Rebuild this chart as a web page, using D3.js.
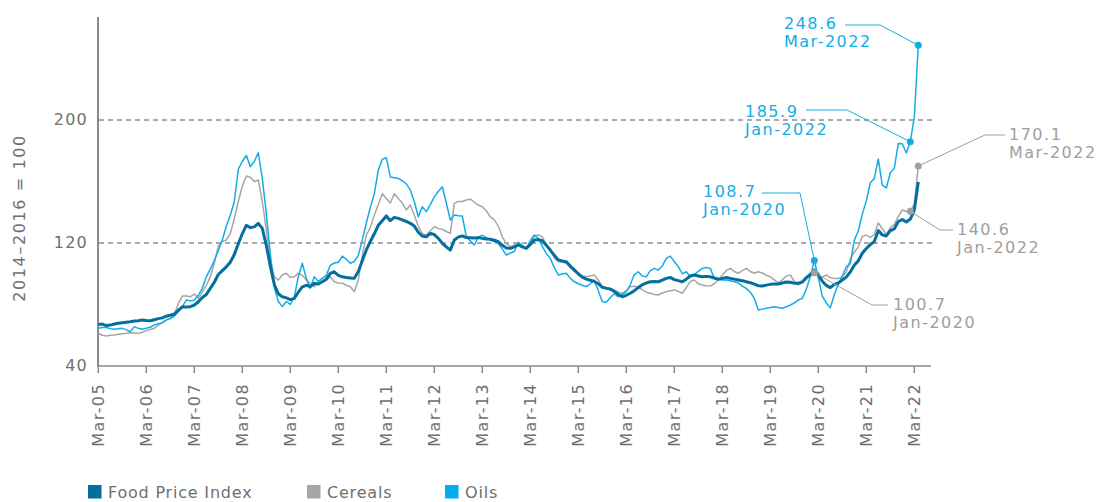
<!DOCTYPE html>
<meta charset="utf-8">
<script src="https://d3js.org/d3.v7.min.js"></script>
<style>
  body { margin: 0; background: #fff; }
  text { font-family: "DejaVu Sans", sans-serif; }
</style>
<div id="chart"></div>
<script>

// monthly values, first point = Feb 2005, last = Mar 2022
var foodPriceIndex = [
  67.0, 67.3, 66.3, 66.6, 67.3, 67.8, 68.2, 68.5, 68.8, 69.2,
  69.5, 69.9, 69.6, 69.4, 70.1, 70.8, 71.3, 72.4, 73.0, 73.8,
  76.2, 78.5, 78.3, 78.6, 79.6, 81.8, 84.5, 86.5, 90.5, 94.5,
  99.5, 102.0, 104.5, 107.5, 112.5, 119.5, 126.0, 131.5, 130.0, 130.5,
  132.8, 129.5, 118.5, 105.0, 93.0, 87.0, 85.0, 84.3, 83.2, 84.0,
  88.0, 91.5, 92.5, 91.6, 93.8, 93.3, 94.8, 96.5, 100.3, 101.3,
  99.0, 98.0, 97.6, 97.3, 97.0, 101.5, 108.5, 115.5, 121.0, 126.0,
  131.5, 134.5, 137.6, 134.5, 136.7, 136.0, 135.0, 134.0, 132.8, 131.0,
  127.0, 124.5, 124.0, 126.3, 125.5, 123.0, 119.8, 117.5, 115.4, 121.9,
  123.8, 124.6, 123.5, 123.4, 123.2, 123.5, 123.0, 122.6, 122.4, 121.8,
  120.9, 118.5, 116.8, 116.5, 117.5, 118.7, 117.5, 116.5, 119.0, 122.0,
  122.2, 121.5, 118.5, 115.4, 112.0, 109.0, 108.3, 107.8, 105.0, 102.5,
  100.0, 97.8, 96.5, 95.8, 95.0, 93.5, 91.2, 90.5, 90.0, 88.5,
  86.5, 85.0, 86.0, 87.3, 89.0, 91.0, 92.8, 94.0, 94.8, 95.0,
  94.8, 95.8, 97.0, 97.6, 96.2, 95.5, 94.8, 96.5, 98.5, 99.2,
  98.5, 98.0, 98.3, 98.0, 97.2, 96.4, 97.0, 97.5, 97.0, 96.5,
  96.0, 95.5, 94.8, 94.2, 93.2, 92.2, 92.0, 92.6, 93.1, 93.3,
  93.3, 94.0, 94.6, 94.5, 93.9, 93.8, 94.6, 97.5, 99.5, 102.5,
  99.4, 95.1, 92.4, 91.0, 93.1, 94.0, 95.9, 97.8, 101.2, 105.5,
  108.5, 113.3, 116.4, 118.9, 121.0, 128.1, 125.3, 124.6, 128.0, 129.2,
  134.0, 135.3, 133.7, 135.6, 141.4, 159.7
];

var cereals = [
  61.3, 60.0, 59.5, 60.0, 60.2, 60.6, 61.0, 61.3, 61.7, 61.5,
  61.3, 62.0, 63.0, 63.8, 64.5, 66.7, 68.0, 69.9, 71.0, 73.5,
  80.5, 85.5, 85.5, 85.0, 86.8, 84.0, 88.0, 92.5, 98.0, 107.0,
  118.0, 121.0, 122.0, 126.0, 136.0, 147.0, 157.0, 163.6, 162.7, 160.0,
  161.0, 147.0, 128.5, 109.0, 98.0, 95.9, 99.2, 100.3, 97.6, 98.0,
  100.3, 99.0, 96.0, 93.8, 91.6, 93.8, 95.0, 95.9, 98.0, 94.8,
  94.0, 93.8, 92.5, 91.6, 88.3, 96.0, 112.0, 125.0, 130.0, 138.0,
  145.0, 152.0, 149.0, 146.0, 152.0, 149.0, 146.0, 141.5, 144.7, 138.0,
  131.0, 126.0, 125.2, 128.0, 130.6, 129.5, 128.9, 127.5, 126.3, 145.8,
  147.0, 147.0, 148.0, 148.5, 146.5, 144.7, 143.5, 141.0, 137.0, 135.0,
  131.0, 124.0, 119.5, 117.6, 118.5, 119.8, 117.5, 116.5, 120.0, 124.5,
  125.2, 124.0, 119.0, 115.4, 110.5, 108.0, 107.5, 106.8, 104.0, 101.5,
  99.5, 98.5, 98.0, 98.5, 99.2, 96.0, 91.6, 91.0, 90.5, 89.5,
  88.0, 87.3, 89.0, 91.6, 91.8, 91.6, 89.5, 88.0, 87.3, 86.5,
  86.2, 87.5, 88.3, 89.0, 89.5, 88.5, 87.3, 91.0, 95.0, 95.9,
  93.5, 92.7, 92.2, 92.0, 93.5, 95.9, 99.0, 102.0, 103.5, 101.5,
  100.3, 102.0, 103.5, 101.5, 100.3, 101.3, 100.5, 99.0, 98.0, 96.0,
  94.0, 96.0, 98.5, 99.2, 95.0, 92.7, 94.5, 96.4, 98.5, 100.7,
  99.4, 97.7, 99.3, 97.5, 96.9, 96.9, 98.0, 101.2, 109.5, 114.0,
  117.5, 124.2, 125.1, 123.6, 125.6, 133.1, 129.3, 125.5, 129.9, 132.1,
  137.1, 141.5, 140.5, 140.6, 145.3, 170.1
];

var oils = [
  64.5, 65.0, 65.0, 64.3, 63.9, 64.2, 64.5, 63.5, 62.3, 65.6,
  64.5, 63.9, 64.5, 65.2, 66.7, 67.5, 68.2, 70.0, 70.8, 72.5,
  75.5, 78.6, 82.9, 82.5, 82.8, 86.0, 90.5, 98.0, 103.0, 108.5,
  115.0, 122.0, 131.0, 138.0, 147.0, 168.0, 173.0, 177.0, 169.6, 173.0,
  178.7, 162.0, 139.3, 113.0, 91.0, 82.0, 78.6, 82.0, 80.0, 85.0,
  98.0, 106.8, 97.0, 90.5, 98.0, 95.0, 97.0, 99.0, 105.5, 107.0,
  107.5, 111.5, 109.5, 106.8, 108.0, 112.0, 122.0, 133.0, 143.0, 152.0,
  167.5, 174.5, 175.5, 163.0, 162.5, 162.0, 160.5, 158.5, 154.5, 147.0,
  137.0, 143.6, 140.4, 145.0, 150.0, 153.5, 156.6, 146.0, 135.0, 138.2,
  137.8, 137.6, 124.0, 121.5, 118.7, 124.0, 125.0, 123.5, 122.0, 121.0,
  119.8, 116.0, 112.2, 113.5, 114.5, 120.5, 118.5, 116.5, 121.5, 125.2,
  123.0, 118.0, 113.0, 110.0, 104.0, 99.2, 99.8, 100.3, 97.0, 94.8,
  93.5, 92.5, 91.6, 93.5, 95.9, 89.0, 81.8, 81.5, 84.5, 87.0,
  85.0, 86.5, 88.3, 93.0, 99.5, 101.3, 98.5, 98.0, 102.0, 103.5,
  102.4, 105.0, 110.0, 111.5, 108.0, 104.6, 100.0, 101.3, 98.0, 99.5,
  101.5, 103.5, 104.0, 103.5, 97.0, 96.5, 96.0, 95.9, 95.5, 94.8,
  94.0, 92.0, 90.5, 88.0, 84.0, 76.4, 77.0, 77.5, 78.0, 78.6,
  78.0, 77.5, 78.5, 79.7, 81.0, 82.9, 84.0, 90.0, 98.0, 108.7,
  97.7, 85.5, 81.0, 77.8, 86.4, 93.2, 98.7, 104.6, 106.4, 121.9,
  127.8, 138.8, 147.4, 159.2, 162.0, 174.7, 157.7, 155.8, 165.7, 168.6,
  184.8, 184.6, 178.5, 185.9, 201.7, 248.6
];

var tickLabels = ["Mar-05", "Mar-06", "Mar-07", "Mar-08", "Mar-09", "Mar-10",
  "Mar-11", "Mar-12", "Mar-13", "Mar-14", "Mar-15", "Mar-16", "Mar-17",
  "Mar-18", "Mar-19", "Mar-20", "Mar-21", "Mar-22"];
var yTicks = [40, 120, 200];
var legendNames = ["Food Price Index", "Cereals", "Oils"];

// labelled points: series, month index, date text
var callouts = [
  { series: "oils", i: 205, date: "Mar-2022" },
  { series: "oils", i: 203, date: "Jan-2022" },
  { series: "oils", i: 179, date: "Jan-2020" },
  { series: "cereals", i: 205, date: "Mar-2022" },
  { series: "cereals", i: 203, date: "Jan-2022" },
  { series: "cereals", i: 179, date: "Jan-2020" }
];

// layout of the callout texts and leader lines (same order as callouts)
var calloutLayout = [
  { tx: 784, ty: 29, pts: [[845, 25], [880, 25]] },
  { tx: 745, ty: 117, pts: [[806, 110], [847, 110]] },
  { tx: 703, ty: 197, pts: [[762, 193], [800, 193]] },
  { tx: 1009, ty: 140, pts: [[1005, 135], [985, 135]] },
  { tx: 957, ty: 235, pts: [[953, 230], [940, 230]] },
  { tx: 893, ty: 310, pts: [[888, 305], [872, 305]] }
];

var colors = { fpi: "#046e9e", cereals: "#a6a6a8", oils: "#12ade6" };
var textGrey = "#6f6f6f";

var svg = d3.select("#chart").append("svg")
  .attr("width", 1100)
  .attr("height", 502);

var x = d3.scaleLinear().domain([0, 208]).range([98.3, 930.3]);
var y = d3.scaleLinear().domain([40, 267]).range([366, 17]);

// grid lines
svg.selectAll(".grid")
  .data(yTicks.slice(1))
  .enter().append("line")
  .attr("x1", 99).attr("x2", 933)
  .attr("y1", function(d) { return y(d); })
  .attr("y2", function(d) { return y(d); })
  .attr("stroke", "#555")
  .attr("stroke-width", 1)
  .attr("stroke-dasharray", "5,4");

// axes
svg.append("line")
  .attr("x1", 98).attr("x2", 98).attr("y1", 17).attr("y2", 366)
  .attr("stroke", "#8a8a8a").attr("stroke-width", 2);
svg.append("line")
  .attr("x1", 97).attr("x2", 931).attr("y1", 366).attr("y2", 366)
  .attr("stroke", "#8a8a8a").attr("stroke-width", 1.5);

svg.selectAll(".ylab")
  .data(yTicks)
  .enter().append("text")
  .attr("x", 88)
  .attr("y", function(d) { return y(d); })
  .attr("dy", "0.32em")
  .attr("text-anchor", "end")
  .attr("font-size", 16)
  .attr("letter-spacing", 1.2)
  .attr("fill", textGrey)
  .text(function(d) { return d; });

var xt = svg.selectAll(".xtick")
  .data(tickLabels)
  .enter().append("g")
  .attr("transform", function(d, k) { return "translate(" + x(k * 12) + ",366)"; });
xt.append("line")
  .attr("y1", 0).attr("y2", 7)
  .attr("stroke", "#8a8a8a").attr("stroke-width", 1.5);
xt.append("text")
  .attr("transform", "translate(6,17) rotate(-90)")
  .attr("text-anchor", "end")
  .attr("font-size", 16)
  .attr("letter-spacing", 1.4)
  .attr("fill", textGrey)
  .text(function(d) { return d; });

svg.append("text")
  .attr("transform", "translate(25,218) rotate(-90)")
  .attr("text-anchor", "middle")
  .attr("font-size", 16)
  .attr("letter-spacing", 1.6)
  .attr("fill", textGrey)
  .text("2014\u20132016 = 100");

// lines
var line = d3.line()
  .x(function(d, i) { return x(i); })
  .y(function(d) { return y(d); });

var seriesData = { fpi: foodPriceIndex, cereals: cereals, oils: oils };

[["cereals", 1.5], ["oils", 1.5], ["fpi", 3]].forEach(function(s) {
  svg.append("path")
    .datum(seriesData[s[0]])
    .attr("d", line)
    .attr("fill", "none")
    .attr("stroke", colors[s[0]])
    .attr("stroke-width", s[1])
    .attr("stroke-linejoin", "round");
});

// callouts
callouts.forEach(function(c, k) {
  var lay = calloutLayout[k];
  var v = seriesData[c.series][c.i];
  var col = c.series == "oils" ? colors.oils : "#9e9e9e";
  var px = x(c.i), py = y(v);
  var pts = c.series == "oils" ? lay.pts.concat([[px, py]]) : [[px, py]].concat(lay.pts.slice().reverse());
  svg.append("path")
    .attr("d", d3.line()(pts))
    .attr("fill", "none")
    .attr("stroke", col)
    .attr("stroke-width", 1);
  svg.append("circle")
    .attr("cx", px).attr("cy", py).attr("r", 3.5)
    .attr("fill", c.series == "oils" ? colors.oils : "#a0a0a0");
  var t = svg.append("text")
    .attr("x", lay.tx).attr("y", lay.ty)
    .attr("font-size", 16)
    .attr("letter-spacing", 1.5)
    .attr("fill", col);
  t.append("tspan").attr("x", lay.tx).text(d3.format(".1f")(v));
  t.append("tspan").attr("x", lay.tx).attr("dy", 18).text(c.date);
});

// legend
var legendX = [88, 307, 445];
var legendCol = [colors.fpi, colors.cereals, "#00aeef"];
legendNames.forEach(function(name, k) {
  svg.append("rect")
    .attr("x", legendX[k]).attr("y", 485)
    .attr("width", 13.5).attr("height", 13.5)
    .attr("fill", legendCol[k]);
  svg.append("text")
    .attr("x", legendX[k] + 20).attr("y", 498)
    .attr("font-size", 16)
    .attr("letter-spacing", 0.8)
    .attr("fill", textGrey)
    .text(name);
});

</script>
